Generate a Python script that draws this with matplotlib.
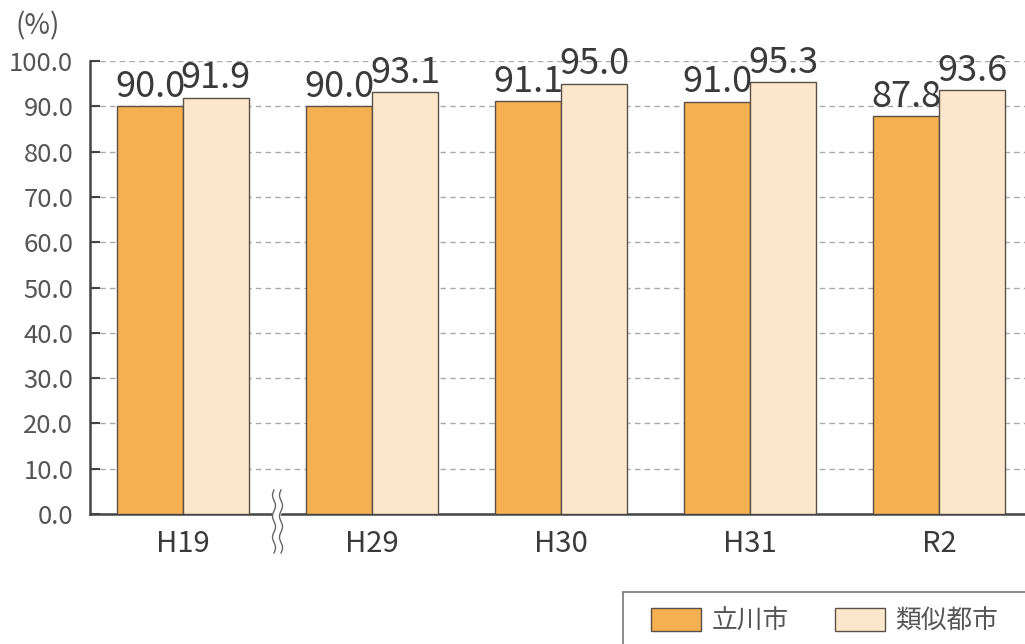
import numpy as np
import matplotlib.pyplot as plt
import matplotlib.transforms as mtransforms
from matplotlib.patches import Rectangle, Patch

plt.rcParams['font.family'] = ['Noto Sans CJK JP', 'DejaVu Sans']

# data
years = ['H19', 'H29', 'H30', 'H31', 'R2']
tachikawa = [90.0, 90.0, 91.1, 91.0, 87.8]
similar = [91.9, 93.1, 95.0, 95.3, 93.6]
series_names = ['立川市', '類似都市']
yticks = np.arange(0, 101, 10)

c_orange = '#F5B052'
c_light = '#FCE7CD'
c_edge = '#5a5048'
c_text = '#3a3a3a'

fig = plt.figure(figsize=(10.25, 6.44), dpi=100)
ax = fig.add_axes([90 / 1025, 130 / 644, 935 / 1025, 453 / 644])

x = np.arange(len(years))
w = 66 / 189
b1 = ax.bar(x - w / 2, tachikawa, w, color=c_orange, edgecolor=c_edge, linewidth=1.0, zorder=3)
b2 = ax.bar(x + w / 2, similar, w, color=c_light, edgecolor=c_edge, linewidth=1.0, zorder=3)

for bars, vals in ((b1, tachikawa), (b2, similar)):
    for r, v in zip(bars, vals):
        ax.annotate(f'{v:.1f}', (r.get_x() + r.get_width() / 2, v),
                    xytext=(0, 1), textcoords='offset points',
                    ha='center', va='bottom', fontsize=26, color=c_text,
                    zorder=5)

ax.set_xlim(-93 / 189, 4 + 86 / 189)
ax.set_ylim(0, 100)
ax.set_yticks(yticks)
ax.set_yticklabels([f'{t:.1f}' for t in yticks], fontsize=18.5, color='#555555')
ax.set_xticks(x)
ax.set_xticklabels(years, fontsize=21, color=c_text)
ax.tick_params(axis='y', direction='in', length=7, width=1.5, color='#444444', pad=12)
ax.tick_params(axis='x', length=0, pad=11)

ax.yaxis.grid(True, linestyle=(0, (4, 3)), color='#aaaaaa', linewidth=1.0, zorder=0)
ax.set_axisbelow(True)
for s in ['top', 'right']:
    ax.spines[s].set_visible(False)
for s in ['left', 'bottom']:
    ax.spines[s].set_color('#444444')
    ax.spines[s].set_linewidth(1.8)

fig.text(38 / 1025, (644 - 26) / 644, '(%)', fontsize=20,
         color='#555555', ha='center', va='center')

# axis break marker between H19 and H29
trans = mtransforms.blended_transform_factory(ax.transData, ax.transAxes)
yy = np.linspace(-0.086, 0.053, 200)
wave = 0.008 * np.sin((yy - yy[0]) / (yy[-1] - yy[0]) * 3 * 2 * np.pi)
off = 3.5 / 189
ax.fill_betweenx(yy, 0.5 - off + wave, 0.5 + off + wave, color='white',
                 transform=trans, clip_on=False, zorder=6)
for d in (-off, off):
    ax.plot(0.5 + d + wave, yy, color='#666666', lw=1.0, transform=trans,
            clip_on=False, zorder=7)

# legend box reaching past the figure edge
fig.patches.append(Rectangle((623 / 1025, -0.05), 0.5, (52 / 644) + 0.05,
                             transform=fig.transFigure, facecolor='white',
                             edgecolor='#777777', linewidth=1.2, zorder=1))
handles = [Patch(facecolor=c_orange, edgecolor=c_edge, linewidth=1.0),
           Patch(facecolor=c_light, edgecolor=c_edge, linewidth=1.0)]
fig.legend(handles, series_names, loc='center left',
           bbox_to_anchor=(638 / 1025, (644 - 621) / 644), ncol=2, frameon=False,
           fontsize=18.5, handlelength=1.95, handleheight=1.05, handletextpad=0.4,
           columnspacing=1.8, borderpad=0, labelcolor='#555555')

fig.savefig('out.png', dpi=100)
